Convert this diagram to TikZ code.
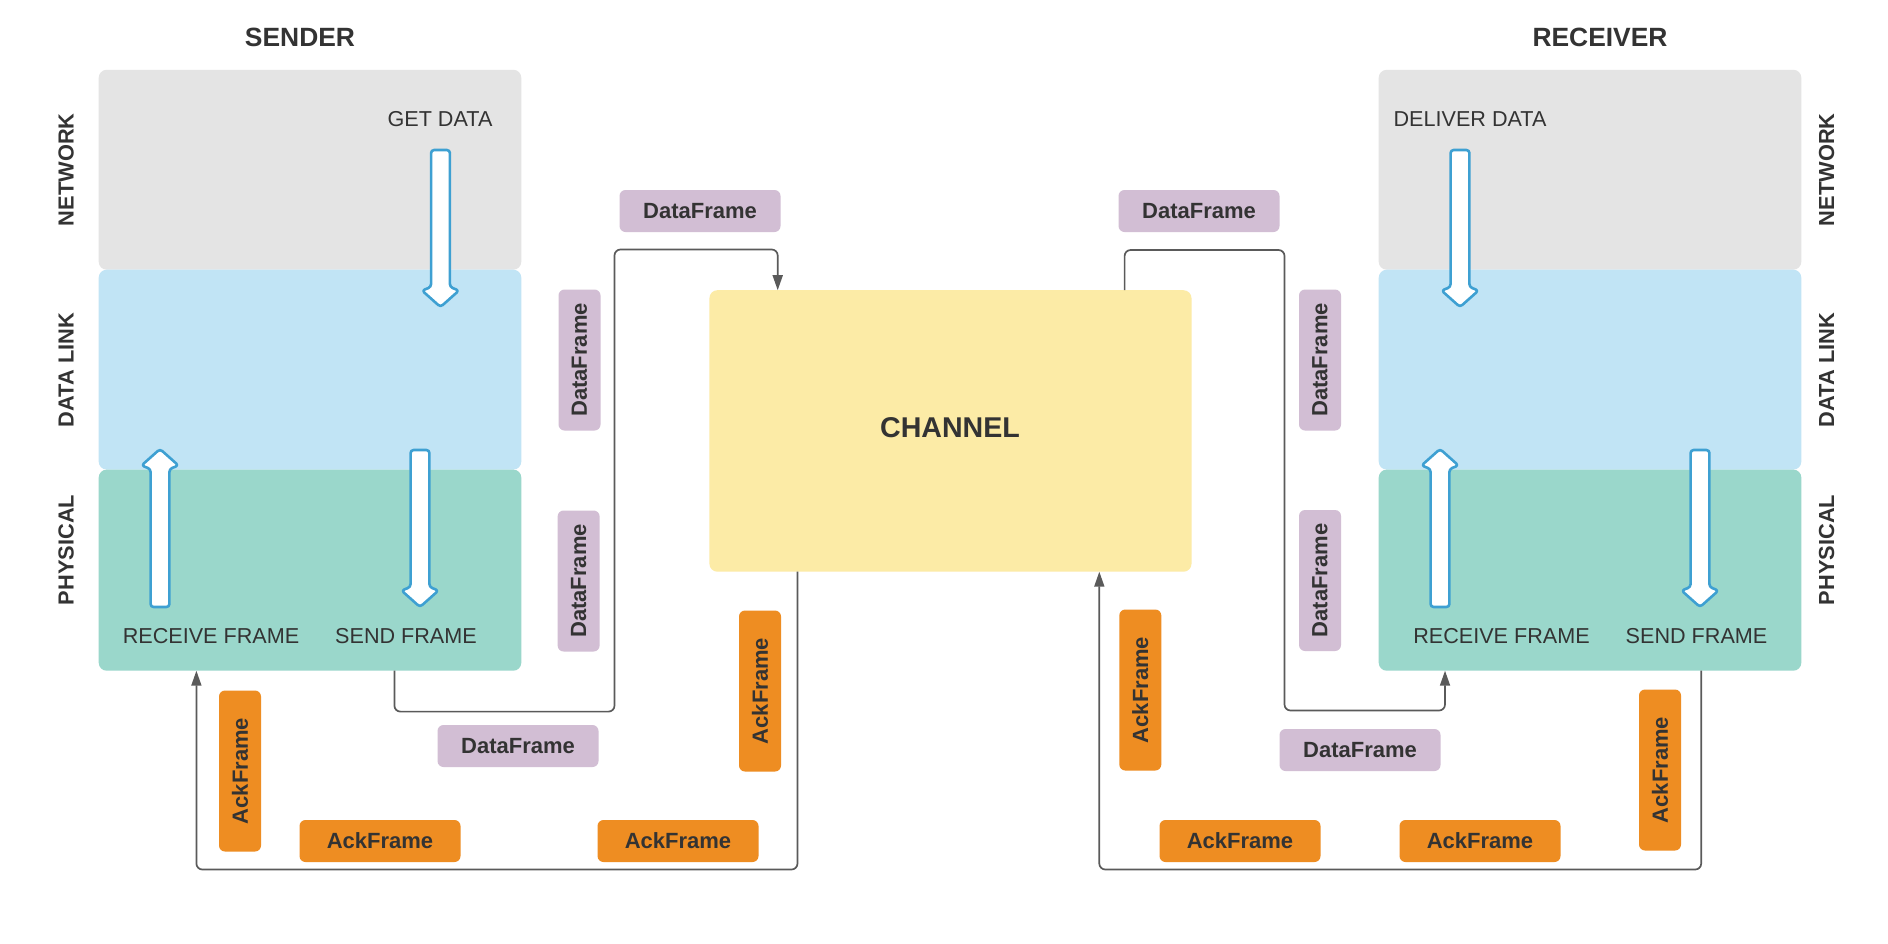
\documentclass[tikz,border=0pt]{standalone}
\usepackage{fontspec}
\setmainfont{Liberation Sans}
\usetikzlibrary{arrows.meta}
\definecolor{netgray}{HTML}{E4E4E4}
\definecolor{dlblue}{HTML}{C1E4F5}
\definecolor{phteal}{HTML}{9AD7CB}
\definecolor{chyel}{HTML}{FCEBA6}
\definecolor{dfpurp}{HTML}{D2BED4}
\definecolor{ackor}{HTML}{EE8D22}
\definecolor{arrblue}{HTML}{3EA0D2}
\definecolor{txtcol}{HTML}{333333}
\definecolor{conncol}{HTML}{5A5A5A}
\newcommand{\blkdown}[3]{\draw[blk] ({#1-9.4},#2) -- ({#1+9.4},#2) -- ({#1+9.4},{#3-20}) -- ({#1+18.5},{#3-16.5}) -- (#1,#3) -- ({#1-18.5},{#3-16.5}) -- ({#1-9.4},{#3-20}) -- cycle;}
\newcommand{\blkup}[3]{\draw[blk] ({#1-9.4},#2) -- ({#1+9.4},#2) -- ({#1+9.4},{#3+20}) -- ({#1+18.5},{#3+16.5}) -- (#1,#3) -- ({#1-18.5},{#3+16.5}) -- ({#1-9.4},{#3+20}) -- cycle;}
\begin{document}
\begin{tikzpicture}[x=0.5pt,y=-0.5pt,
  layer/.style={draw=none, rounded corners=4pt, minimum width=211.3pt, inner sep=0pt, outer sep=0pt},
  chip/.style={rounded corners=3pt, minimum width=80.5pt, minimum height=21pt, inner sep=0pt, outer sep=0pt, font=\fontsize{11}{13}\selectfont\bfseries, text=txtcol},
  dfchip/.style={chip, fill=dfpurp},
  vdfchip/.style={dfchip, rotate=90, minimum width=70.5pt},
  ackchip/.style={chip, fill=ackor},
  conn/.style={draw=conncol, line width=0.85pt, rounded corners=3pt},
  arr/.style={-{Triangle[length=7.5pt,width=5pt]}},
  blk/.style={draw=arrblue, fill=white, line width=1.3pt, rounded corners=1.5pt, line join=round},
  sidelbl/.style={rotate=90, font=\fontsize{10.9}{12}\selectfont\bfseries, text=txtcol, inner sep=0pt},
  titlelbl/.style={font=\fontsize{13.2}{15}\selectfont\bfseries, text=txtcol, inner sep=0pt},
  lbl/.style={font=\fontsize{10.8}{12}\selectfont, text=txtcol, inner sep=0pt}
]
\fill[white] (0,0) rectangle (1888,943);
\useasboundingbox (0,0) rectangle (1888,943);

% titles
\node[titlelbl] (t-sender) at (300,37) {SENDER};
\node[titlelbl] (t-receiver) at (1600,37) {RECEIVER};

% sender layers
\node[layer, fill=netgray, minimum height=99.95pt] (net-s) at (310,169.75) {};
\node[layer, fill=dlblue, minimum height=99.95pt] (dl-s) at (310,369.65) {};
\node[layer, fill=phteal, minimum height=100.55pt] (ph-s) at (310,570.15) {};
% receiver layers
\node[layer, fill=netgray, minimum height=99.95pt] (net-r) at (1590,169.75) {};
\node[layer, fill=dlblue, minimum height=99.95pt] (dl-r) at (1590,369.65) {};
\node[layer, fill=phteal, minimum height=100.55pt] (ph-r) at (1590,570.15) {};

% side labels
\node[sidelbl] (sl-net) at (66.2,169.75) {NETWORK};
\node[sidelbl] (sl-dl) at (66.2,370) {DATA LINK};
\node[sidelbl] (sl-ph) at (66.2,550) {PHYSICAL};
\node[sidelbl] (sr-net) at (1826.7,169.75) {NETWORK};
\node[sidelbl] (sr-dl) at (1826.7,370) {DATA LINK};
\node[sidelbl] (sr-ph) at (1826.7,550) {PHYSICAL};

% channel
\node[draw=none, fill=chyel, rounded corners=4pt, minimum width=241.05pt, minimum height=140.75pt, inner sep=0pt, outer sep=0pt] (ch) at (950.45,430.95) {};
\node[font=\fontsize{14.3}{16}\selectfont\bfseries, text=txtcol, inner sep=0pt] (chtxt) at (950,428) {CHANNEL};

% layer texts
\node[lbl] (getdata) at (440,119) {GET DATA};
\node[lbl] (deliver) at (1470,119) {DELIVER DATA};
\node[lbl] (rf-s) at (211,636) {RECEIVE FRAME};
\node[lbl] (sf-s) at (406,636) {SEND FRAME};
\node[lbl] (rf-r) at (1501.5,636) {RECEIVE FRAME};
\node[lbl] (sf-r) at (1696.5,636) {SEND FRAME};

% block arrows
\blkdown{440.5}{150}{307}
\blkdown{420}{450}{607}
\blkup{160}{607}{449}
\blkdown{1460}{150}{307}
\blkup{1440}{607}{449}
\blkdown{1700}{450}{607}

% connectors
\coordinate (c1a) at (394.4,711.6);
\coordinate (c1b) at (614.5,249.5);
\coordinate (c1c) at (777.7,249.5);
\draw[conn,arr] (ph-s.south -| c1a) -- (c1a) -- (c1a -| c1b) -- (c1b) -- (c1c) -- (ch.north -| c1c);

\coordinate (c2a) at (797.5,869.5);
\coordinate (c2b) at (196.4,869.5);
\draw[conn,arr] (ch.south -| c2a) -- (c2a) -- (c2b) -- (ph-s.south -| c2b);

\coordinate (c3a) at (1124.6,250);
\coordinate (c3b) at (1284.5,250);
\coordinate (c3c) at (1284.5,710.5);
\coordinate (c3d) at (1445,710.5);
\draw[conn,arr] (ch.north -| c3a) -- (c3a) -- (c3b) -- (c3c) -- (c3d) -- (ph-r.south -| c3d);

\coordinate (c4a) at (1701.2,869.5);
\coordinate (c4b) at (1099.3,869.5);
\draw[conn,arr] (ph-r.south -| c4a) -- (c4a) -- (c4b) -- (ch.south -| c4b);

% DataFrame chips
\node[dfchip] (d1) at (700,211) {DataFrame};
\node[vdfchip] (d2) at (579.5,360) {DataFrame};
\node[vdfchip] (d3) at (578.6,581) {DataFrame};
\node[dfchip] (d4) at (518,746) {DataFrame};
\node[dfchip] (d5) at (1199,211) {DataFrame};
\node[vdfchip] (d6) at (1320,360) {DataFrame};
\node[vdfchip] (d7) at (1320,580.5) {DataFrame};
\node[dfchip] (d8) at (1360,750) {DataFrame};

% AckFrame chips
\node[ackchip, rotate=90] (a1) at (240,771) {AckFrame};
\node[ackchip] (a2) at (380,841) {AckFrame};
\node[ackchip] (a3) at (678,841) {AckFrame};
\node[ackchip, rotate=90] (a4) at (760,691) {AckFrame};
\node[ackchip, rotate=90] (a5) at (1140.3,690) {AckFrame};
\node[ackchip] (a6) at (1240,841) {AckFrame};
\node[ackchip] (a7) at (1480,841) {AckFrame};
\node[ackchip, rotate=90] (a8) at (1660,770) {AckFrame};
\end{tikzpicture}
\end{document}
